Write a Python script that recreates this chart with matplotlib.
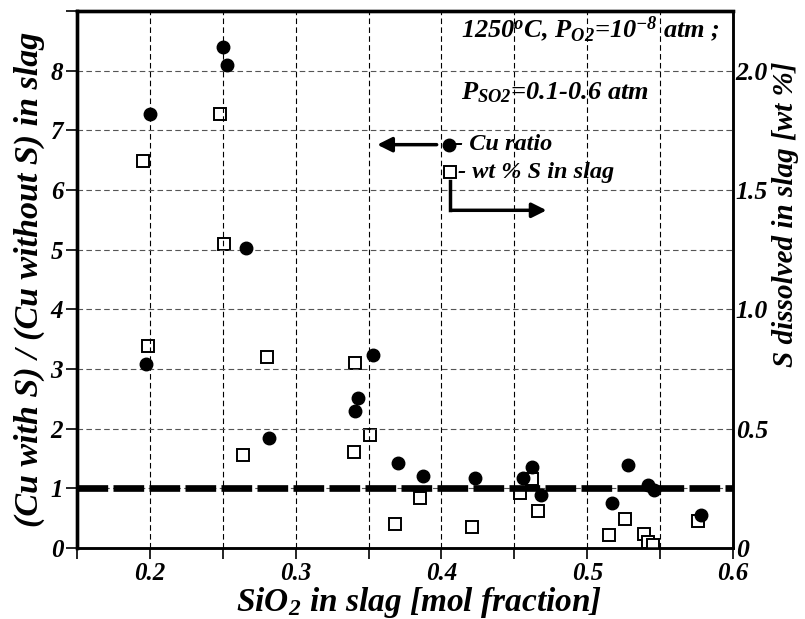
import matplotlib
matplotlib.use("Agg")
import matplotlib.pyplot as plt

plt.rcParams["font.family"] = "Liberation Serif"
plt.rcParams["font.weight"] = "bold"
plt.rcParams["font.style"] = "italic"
plt.rcParams["axes.labelweight"] = "bold"
plt.rcParams["mathtext.fontset"] = "custom"
plt.rcParams["mathtext.rm"] = "Liberation Serif:bold:italic"
plt.rcParams["mathtext.it"] = "Liberation Serif:bold:italic"
plt.rcParams["mathtext.bf"] = "Liberation Serif:bold:italic"

# Cu ratio (left axis)
cu_x = [0.200, 0.250, 0.253, 0.266, 0.197, 0.282, 0.353, 0.343, 0.341, 0.370,
        0.387, 0.423, 0.462, 0.456, 0.468, 0.528, 0.542, 0.546, 0.517, 0.578]
cu_y = [7.27, 8.40, 8.10, 5.02, 3.08, 1.84, 3.23, 2.51, 2.29, 1.42,
        1.21, 1.17, 1.35, 1.18, 0.89, 1.39, 1.06, 0.97, 0.76, 0.55]

# wt % S in slag (right axis)
s_x = [0.195, 0.248, 0.251, 0.199, 0.280, 0.264, 0.341, 0.351, 0.340, 0.385,
       0.368, 0.421, 0.454, 0.462, 0.466, 0.526, 0.515, 0.539, 0.542, 0.545, 0.576]
s_y = [1.62, 1.82, 1.275, 0.847, 0.80, 0.39, 0.775, 0.474, 0.403, 0.21,
       0.10, 0.087, 0.232, 0.29, 0.155, 0.12, 0.055, 0.057, 0.026, 0.013, 0.115]

fig = plt.figure(figsize=(8.05, 6.19), dpi=100)
ax = fig.add_axes([0.0957, 0.1147, 0.8149, 0.8675])
ax2 = ax.twinx()

ax.set_xlim(0.15, 0.6)
ax.set_ylim(0, 9)
ax2.set_ylim(0, 2.25)

ax.set_xticks([0.2, 0.3, 0.4, 0.5, 0.6])
ax.set_xticklabels(["0.2", "0.3", "0.4", "0.5", "0.6"])
ax.set_xticks([0.15, 0.25, 0.35, 0.45, 0.55], minor=True)
ax.set_yticks(range(0, 10))
ax.set_yticklabels(["0", "1", "2", "3", "4", "5", "6", "7", "8", ""])
ax2.set_yticks([0, 0.5, 1.0, 1.5, 2.0])
ax2.set_yticklabels(["0", "0.5", "1.0", "1.5", "2.0"])
ax2.set_yticks([0.25, 0.75, 1.25, 1.75, 2.25], minor=True)

ax.grid(True, which="both", axis="x", color="black", linestyle=(0, (5, 3)), linewidth=0.8)
ax.grid(True, axis="y", color="#555555", linestyle=(0, (5, 3)), linewidth=0.8)
ax.set_axisbelow(True)

ax.tick_params(axis="both", which="both", direction="out", labelsize=18, width=1.2)
ax.tick_params(axis="x", which="major", length=8, pad=2)
ax.tick_params(axis="x", which="minor", length=8)
ax.tick_params(axis="y", length=8, pad=2)
ax2.tick_params(axis="y", which="both", direction="in", length=0, labelsize=18.5, pad=2)

for side, w in [("left", 2.4), ("top", 2.4), ("bottom", 1.8), ("right", 1.8)]:
    ax.spines[side].set_linewidth(w)
    ax2.spines[side].set_linewidth(w)

# reference line at ratio = 1
ax.axhline(1, color="black", linewidth=4.8, dashes=(4.6, 0.8), zorder=3)

ax2.plot(s_x, s_y, linestyle="none", marker="s", markersize=9.3,
         markerfacecolor="white", markeredgecolor="black", markeredgewidth=1.4, zorder=4)
ax.plot(cu_x, cu_y, linestyle="none", marker="o", markersize=9,
        color="black", zorder=5)
ax.set_zorder(ax2.get_zorder() + 1)
ax.patch.set_visible(False)

ax.set_xlabel(r"SiO$_2$ in slag [mol fraction]", fontsize=24)
ax.xaxis.set_label_coords(0.521, -0.068)
ax.set_ylabel("(Cu with S) / (Cu without S) in slag", fontsize=24.5, labelpad=4)
ax2.set_ylabel("S dissolved in slag [wt %]", fontsize=21)
ax2.yaxis.set_label_coords(1.059, 0.622)

# conditions
ax.text(0.4137, 8.69, r"1250$^o$C, P$_{O2}$=10$^{-8}$ atm ;", fontsize=19, va="center")
ax.text(0.4137, 7.63, r"P$_{SO2}$=0.1-0.6 atm", fontsize=19, va="center")

# legend by hand
ax.plot([0.405], [6.76], marker="o", markersize=9, color="black", zorder=6)
ax.text(0.4095, 6.76, "- Cu ratio", fontsize=17.5, va="center")
ax.plot([0.406], [6.30], marker="s", markersize=9.3, markerfacecolor="white",
        markeredgecolor="black", markeredgewidth=1.4, zorder=6)
ax.text(0.411, 6.30, "- wt % S in slag", fontsize=17.5, va="center")
ax.annotate("", xy=(0.354, 6.76), xytext=(0.3986, 6.76),
            arrowprops=dict(arrowstyle="-|>", color="black", lw=2.5, mutation_scale=22))
ax.plot([0.406, 0.406], [6.15, 5.66], color="black", linewidth=2.5, zorder=6)
ax.annotate("", xy=(0.474, 5.66), xytext=(0.405, 5.66),
            arrowprops=dict(arrowstyle="-|>", color="black", lw=2.5, mutation_scale=22))

plt.savefig("out.png", dpi=100)
